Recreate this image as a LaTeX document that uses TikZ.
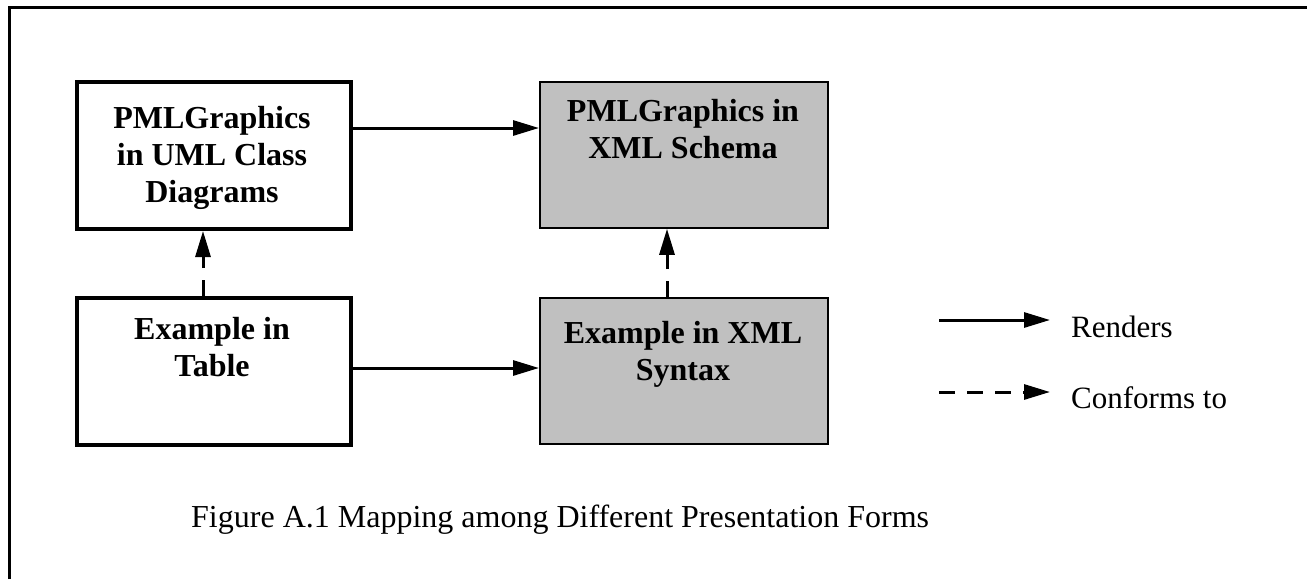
\documentclass[tikz,border=0pt]{standalone}
\usepackage{fontspec}
\setmainfont{Liberation Serif}
\usetikzlibrary{arrows.meta}
\definecolor{boxgray}{RGB}{192,192,192}
\tikzset{
  whitebox/.style={draw=black, line width=4pt, fill=white, minimum width=274pt, minimum height=147pt, inner sep=0pt, anchor=north west},
  graybox/.style={draw=black, line width=1.8pt, fill=boxgray, minimum width=288pt, minimum height=146pt, inner sep=0pt, anchor=north west},
  boxtext/.style={font=\bfseries\fontsize{32}{37}\selectfont, align=center, anchor=north, inner sep=0pt},
  rend/.style={line width=3pt, -{Triangle[length=26pt,width=15pt]}},
  conf/.style={line width=3pt, dash pattern=on 16pt off 12pt, -{Triangle[length=26pt,width=15pt]}},
  legtext/.style={font=\fontsize{31}{35}\selectfont, anchor=west, inner sep=0pt},
}
\begin{document}
\begin{tikzpicture}[x=1pt,y=-1pt]
\useasboundingbox (0,0) rectangle (1307,579);
\fill[white] (0,0) rectangle (1307,579);
\draw[line width=3pt] (9.5,579) -- (9.5,7.5) -- (1307,7.5);
% boxes
\node[whitebox] (b1) at (75,80) {};
\node[graybox] (b2) at (539,81) {};
\node[whitebox] (b3) at (75,296) {};
\node[graybox] (b4) at (539,297) {};
% texts
\node[boxtext] (t1) at (212,106) {PMLGraphics\\in UML Class\\Diagrams};
\node[boxtext] (t2) at (683,99) {PMLGraphics in\\XML Schema};
\node[boxtext] (t3) at (212,317) {Example in\\Table};
\node[boxtext] (t4) at (683,321) {Example in XML\\Syntax};
% connectors
\draw[rend] (b1.east |- 0,128) -- (b2.west |- 0,128);
\draw[rend] (b3.east |- 0,368) -- (b4.west |- 0,368);
\draw[conf] (b3.north -| 203,0) -- (b1.south -| 203,0);
\draw[conf] (b4.north -| 667,0) -- (b2.south -| 667,0);
% legend
\coordinate (l1s) at (939,320);
\coordinate (l1e) at (1050,320);
\coordinate (l2s) at (939,392);
\coordinate (l2e) at (1050,392);
\draw[rend] (l1s) -- (l1e);
\draw[conf] (l2s) -- (l2e);
\node[legtext] (r) at (1071,327) {Renders};
\node[legtext] (c) at (1071,398) {Conforms to};
% caption
\node[font=\fontsize{32}{36}\selectfont, anchor=base west, inner sep=0pt] (cap) at (191,527) {Figure A.1 Mapping among Different Presentation Forms};
\end{tikzpicture}
\end{document}
